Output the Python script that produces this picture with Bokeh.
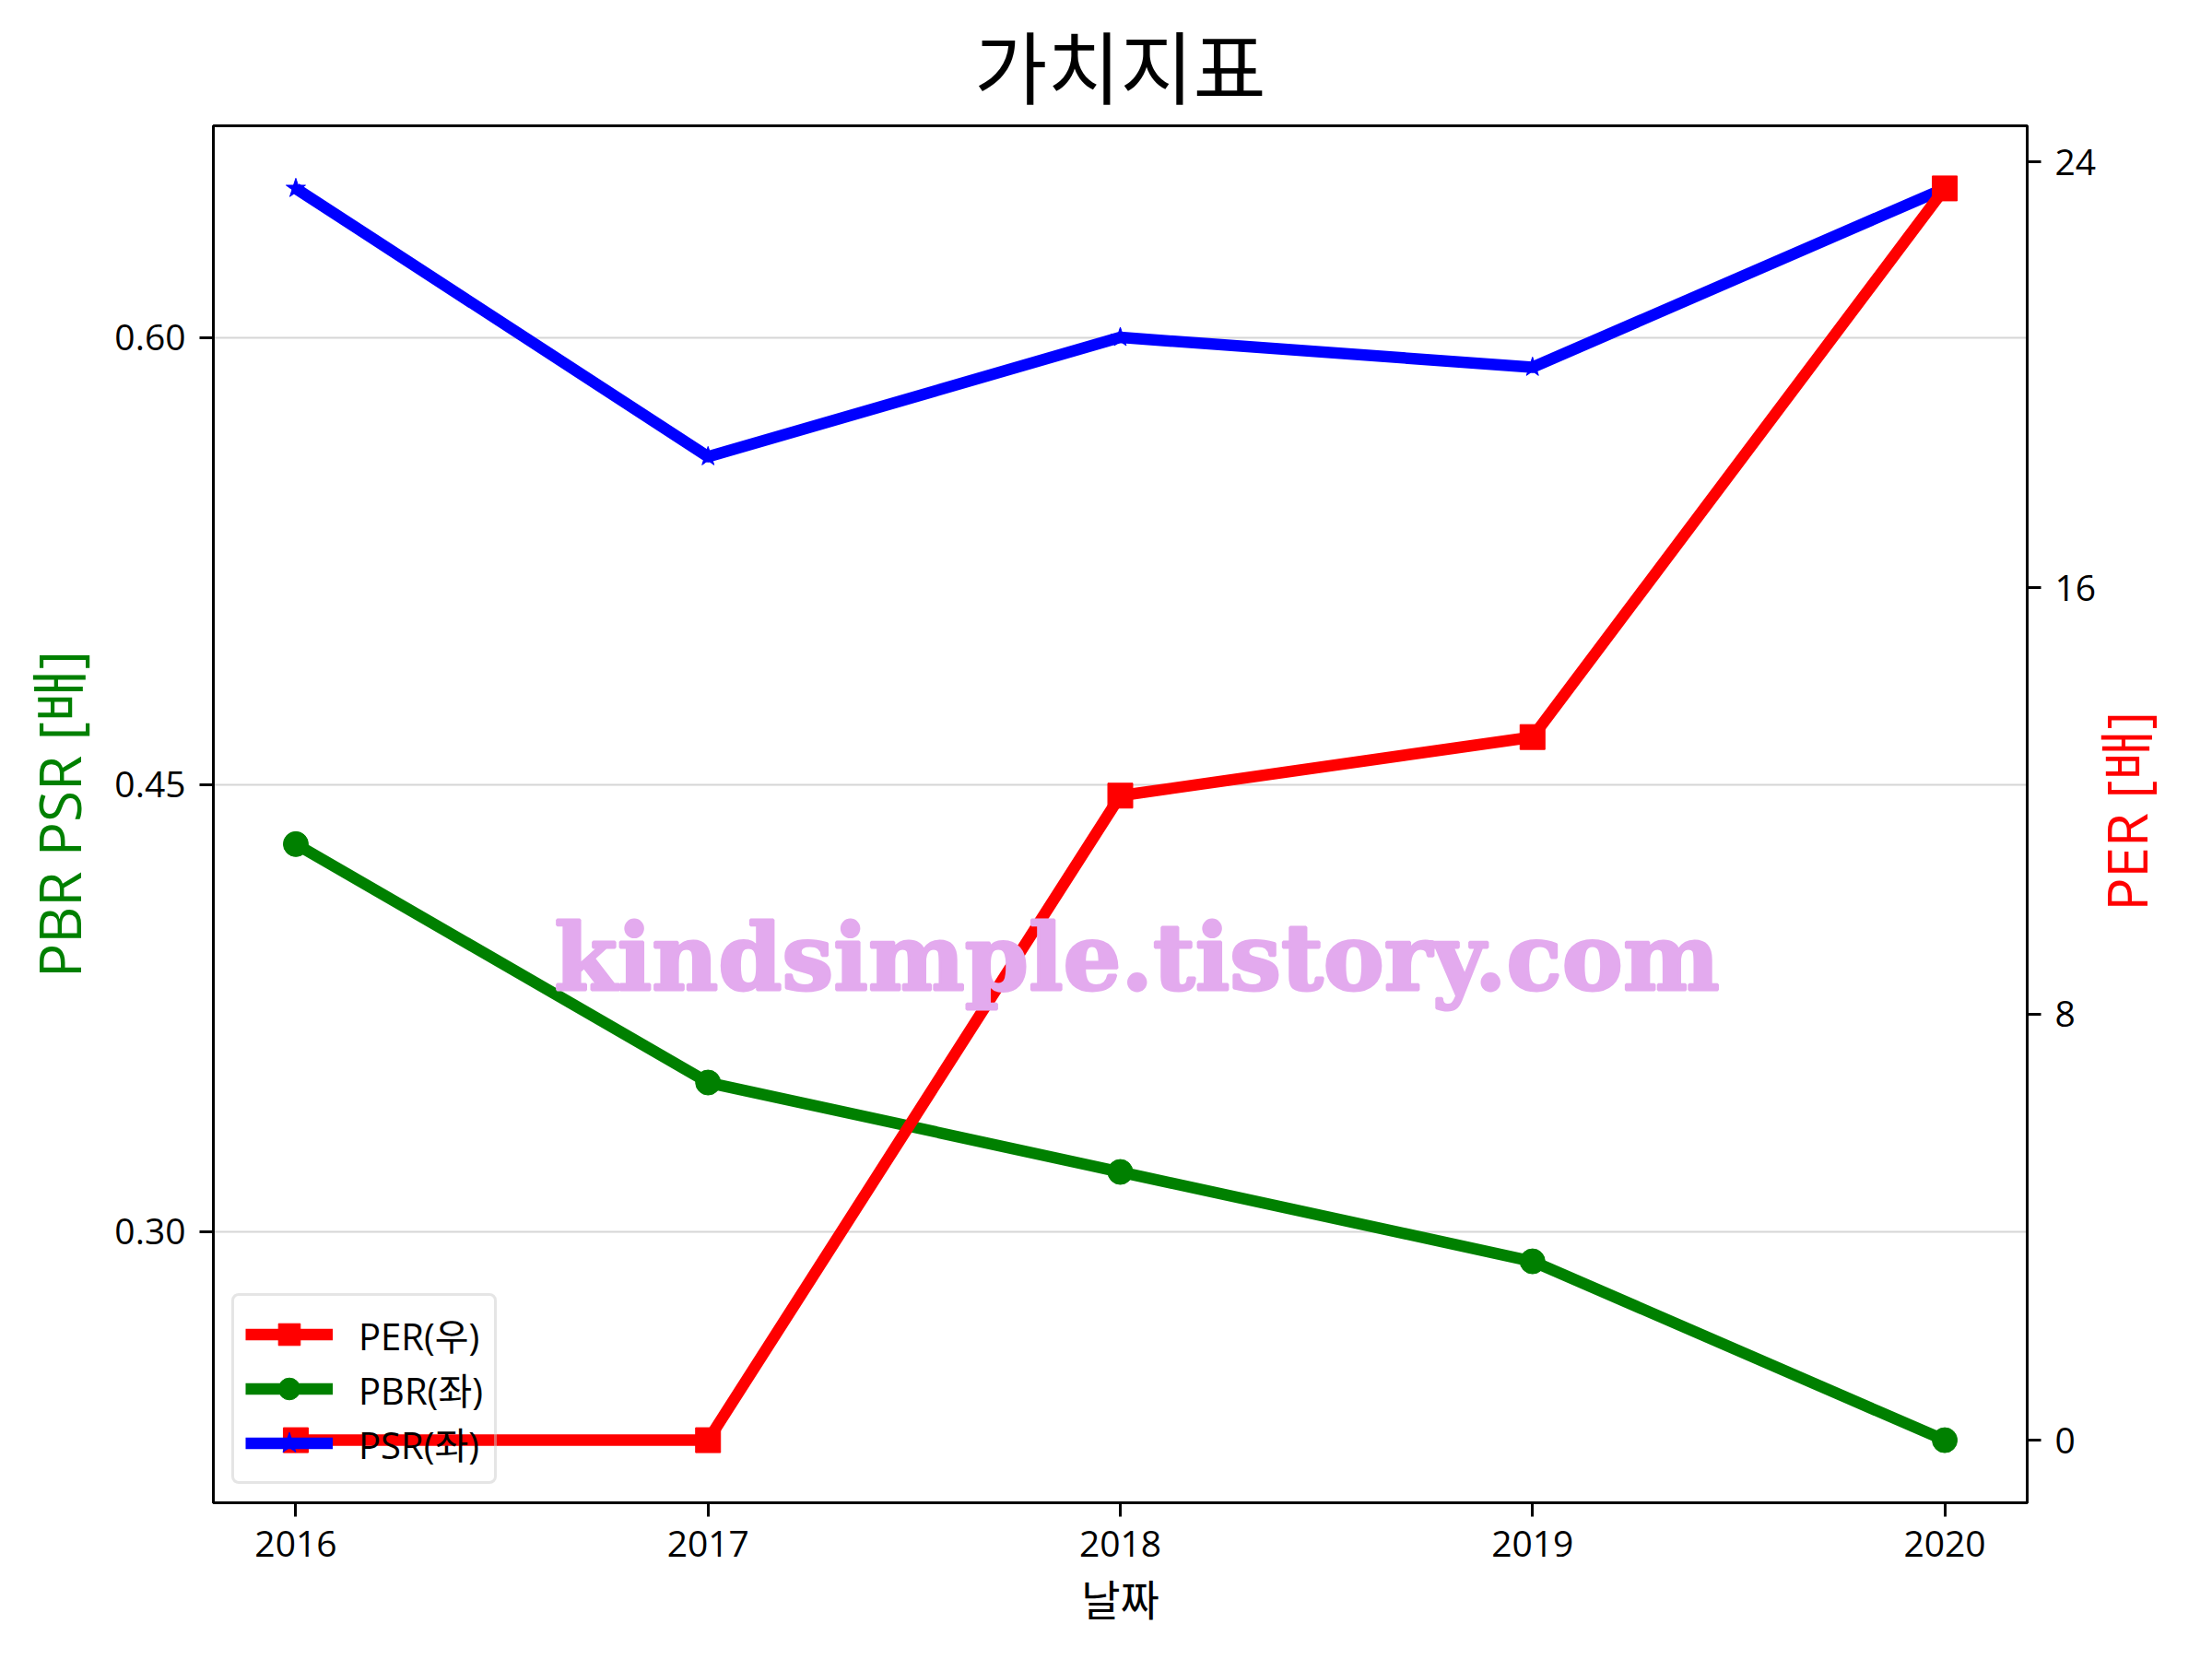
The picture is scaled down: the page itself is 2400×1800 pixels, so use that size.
import math
from bokeh.plotting import figure
from bokeh.models import Range1d, LinearAxis, FixedTicker, NumeralTickFormatter, Legend, LegendItem
from bokeh.models.glyphs import Text
from bokeh.core.properties import value
from bokeh.embed import file_html
from bokeh.resources import INLINE

# ---- data ----
YEARS = [2016, 2017, 2018, 2019, 2020]
PER = [0.0, 0.0, 12.1, 13.2, 23.5]
PBR = [0.43, 0.35, 0.32, 0.29, 0.23]
PSR = [0.65, 0.56, 0.60, 0.59, 0.65]
LEFT_TICKS = [0.30, 0.45, 0.60]
RIGHT_TICKS = [0, 8, 16, 24]
TITLE = "가치지표"
XLABEL = "날짜"
YLABEL_LEFT = "PBR PSR [배]"
YLABEL_RIGHT = "PER [배]"
LABELS = ["PER(우)", "PBR(좌)", "PSR(좌)"]
WATERMARK = "kindsimple.tistory.com"
WM_X = 2018.04
WM_Y = 0.392

LATIN = "Open Sans, Noto Sans CJK KR"
CJK = "Noto Sans CJK KR"


def pad(lo, hi, m=0.05):
    r = hi - lo
    return lo - r * m, hi + r * m


xlo, xhi = pad(min(YEARS), max(YEARS))
ylo, yhi = pad(min(PBR + PSR), max(PBR + PSR))
rlo, rhi = pad(min(PER), max(PER))

W, H = 2392, 1784
BL, BR, BT, BB = 231, 193, 136, 154
FW, FH = W - BL - BR, H - BT - BB
RLABEL_START = 642  # px above frame bottom where the rotated right title begins

p = figure(width=W, height=H, output_backend="svg", toolbar_location=None,
           x_range=Range1d(xlo, xhi), y_range=Range1d(ylo, yhi),
           min_border_left=BL, min_border_right=BR, min_border_top=BT, min_border_bottom=BB)
p.extra_y_ranges = {"per": Range1d(rlo, rhi), "lab": Range1d(0, FH)}
p.background_fill_color = "white"
p.border_fill_color = "white"
p.outline_line_color = "black"
p.outline_line_width = 3

p.title.text = TITLE
p.title.align = "center"
p.title.text_font = CJK
p.title.text_font_size = "86px"
p.title.text_font_style = "normal"
p.title.text_color = "black"
p.title.standoff = 9


def style_axis(ax):
    ax.axis_line_color = "black"
    ax.axis_line_width = 3
    ax.major_tick_line_color = "black"
    ax.major_tick_line_width = 3
    ax.major_tick_out = 15
    ax.major_tick_in = 0
    ax.minor_tick_out = 0
    ax.minor_tick_in = 0
    ax.major_label_text_font = LATIN
    ax.major_label_text_font_size = "39px"
    ax.major_label_text_color = "black"
    ax.major_label_standoff = 15
    ax.axis_label_text_font_style = "normal"


xa = p.xaxis[0]
style_axis(xa)
xa.ticker = FixedTicker(ticks=YEARS)
xa.formatter = NumeralTickFormatter(format="0")
xa.axis_label = XLABEL
xa.axis_label_text_font = CJK
xa.axis_label_text_font_size = "46px"
xa.axis_label_text_color = "black"
xa.axis_label_standoff = 8

ya = p.yaxis[0]
style_axis(ya)
ya.ticker = FixedTicker(ticks=LEFT_TICKS)
ya.formatter = NumeralTickFormatter(format="0.00")
ya.axis_label = YLABEL_LEFT
ya.axis_label_text_font = LATIN
ya.axis_label_text_font_size = "62px"
ya.axis_label_text_color = "green"
ya.axis_label_standoff = 15

ra = LinearAxis(y_range_name="per")
style_axis(ra)
ra.ticker = FixedTicker(ticks=RIGHT_TICKS)
p.add_layout(ra, "right")

# right axis title (reads bottom-to-top, like matplotlib's twinx ylabel)
rt = LinearAxis(y_range_name="lab", ticker=FixedTicker(ticks=[RLABEL_START]),
                major_label_overrides={RLABEL_START: YLABEL_RIGHT},
                major_label_orientation=math.pi / 2)
rt.axis_line_color = None
rt.major_tick_line_color = None
rt.minor_tick_line_color = None
rt.major_tick_out = 0
rt.major_tick_in = 0
rt.minor_tick_out = 0
rt.minor_tick_in = 0
rt.major_label_standoff = 29
rt.major_label_text_font = LATIN
rt.major_label_text_font_size = "60px"
rt.major_label_text_color = "red"
p.add_layout(rt, "right")

p.xgrid.visible = False
p.ygrid.grid_line_color = "#d6d6d6"
p.ygrid.grid_line_width = 2

LW = 12.5
pbr_l = p.line(YEARS, PBR, line_color="green", line_width=LW, line_join="round")
pbr_s = p.scatter(YEARS, PBR, marker="circle", size=27, fill_color="green", line_color="green")
psr_l = p.line(YEARS, PSR, line_color="blue", line_width=LW, line_join="round")
psr_s = p.scatter(YEARS, PSR, marker="star", size=22, fill_color="blue", line_color="blue")
per_l = p.line(YEARS, PER, line_color="red", line_width=LW, line_join="round", y_range_name="per")
per_s = p.scatter(YEARS, PER, marker="square", size=27, fill_color="red", line_color="red", y_range_name="per")

wm_kw = dict(text_font=value("DejaVu Serif"), text_font_style="bold", text_font_size="99px",
             text_color="#E3AAEE", text_align="center", text_baseline="alphabetic")
if "text_outline_color" in Text.properties():
    wm_kw["text_outline_color"] = "#E3AAEE"
wm = p.text(x=[WM_X], y=[WM_Y], text=[WATERMARK], **wm_kw)

legend = Legend(items=[
    LegendItem(label=LABELS[0], renderers=[per_l, per_s]),
    LegendItem(label=LABELS[1], renderers=[pbr_l, pbr_s]),
    LegendItem(label=LABELS[2], renderers=[psr_l, psr_s]),
], location="bottom_left")
legend.margin = 20
legend.padding = 12
legend.spacing = 0
legend.glyph_height = 59
legend.glyph_width = 95
legend.label_height = 40
legend.label_standoff = 28
legend.label_text_font = LATIN
legend.label_text_font_size = "40px"
legend.label_text_color = "black"
legend.background_fill_color = "white"
legend.background_fill_alpha = 0.0
legend.border_line_color = "#cccccc"
legend.border_line_width = 3
if "border_radius" in Legend.properties():
    legend.border_radius = 8
p.add_layout(legend, "center")

open("out.html", "w").write(file_html(p, INLINE))
